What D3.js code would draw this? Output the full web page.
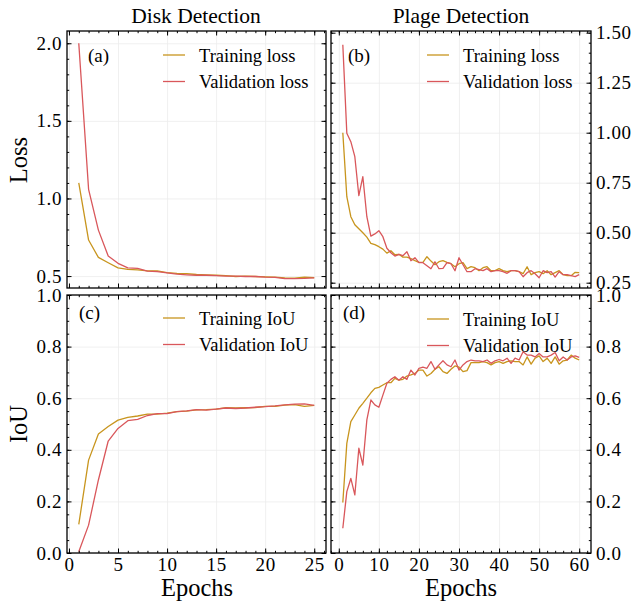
<!DOCTYPE html>
<html>
<head>
<meta charset="utf-8">
<script src="https://cdn.jsdelivr.net/npm/d3@7"></script>
<style>
body { margin: 0; background: #fff; }
svg text { font-family: "Liberation Serif", "Times New Roman", serif; fill: #000; }
.grid line { stroke: #ececec; stroke-width: 0.8; }
.grid .domain { display: none; }
.ax .domain { display: none; }
.ax line { stroke: #000; stroke-width: 1; }
.ax text { letter-spacing: 0.6px; }
</style>
</head>
<body>
<svg width="631" height="606"></svg>
<script>
// epoch i is index + 1 in every series

// (a) disk detection loss, 25 epochs
var diskTrainLoss = [1.101, 0.732, 0.620, 0.586, 0.553, 0.543, 0.540, 0.533, 0.533, 0.522,
	0.517, 0.515, 0.510, 0.507, 0.505, 0.503, 0.497, 0.499, 0.497, 0.495,
	0.493, 0.488, 0.487, 0.493, 0.490];
var diskValLoss = [2.000, 1.059, 0.796, 0.629, 0.582, 0.553, 0.549, 0.532, 0.528, 0.520,
	0.512, 0.508, 0.505, 0.505, 0.503, 0.500, 0.500, 0.497, 0.497, 0.493,
	0.492, 0.484, 0.484, 0.485, 0.488];

// (c) disk detection IoU
var diskTrainIoU = [0.111, 0.360, 0.461, 0.490, 0.515, 0.526, 0.531, 0.538, 0.538, 0.542,
	0.548, 0.550, 0.555, 0.556, 0.558, 0.563, 0.562, 0.563, 0.564, 0.568,
	0.568, 0.573, 0.575, 0.568, 0.572];
var diskValIoU = [0.005, 0.108, 0.283, 0.434, 0.483, 0.513, 0.518, 0.533, 0.540, 0.540,
	0.548, 0.551, 0.556, 0.554, 0.558, 0.562, 0.560, 0.562, 0.565, 0.567,
	0.570, 0.574, 0.577, 0.578, 0.572];

// (b) plage detection loss, 60 epochs
var plageTrainLoss = [1.000, 0.680, 0.580, 0.540, 0.520, 0.500, 0.478, 0.447, 0.440, 0.430,
	0.418, 0.398, 0.410, 0.390, 0.392, 0.378, 0.378, 0.370, 0.360, 0.352,
	0.352, 0.380, 0.358, 0.340, 0.355, 0.360, 0.352, 0.345, 0.330, 0.345,
	0.350, 0.320, 0.330, 0.325, 0.310, 0.325, 0.330, 0.310, 0.310, 0.320,
	0.310, 0.305, 0.310, 0.310, 0.305, 0.295, 0.330, 0.290, 0.300, 0.305,
	0.295, 0.310, 0.290, 0.300, 0.310, 0.290, 0.285, 0.285, 0.302, 0.300];
var plageValLoss = [1.440, 0.997, 0.955, 0.880, 0.685, 0.780, 0.580, 0.483, 0.494, 0.510,
	0.480, 0.422, 0.400, 0.383, 0.392, 0.385, 0.405, 0.360, 0.375, 0.350,
	0.350, 0.335, 0.320, 0.355, 0.320, 0.322, 0.350, 0.345, 0.310, 0.375,
	0.340, 0.305, 0.305, 0.320, 0.315, 0.310, 0.320, 0.305, 0.310, 0.310,
	0.305, 0.297, 0.310, 0.310, 0.305, 0.280, 0.300, 0.310, 0.295, 0.275,
	0.310, 0.300, 0.305, 0.278, 0.305, 0.290, 0.290, 0.285, 0.280, 0.290];

// (d) plage detection IoU
var plageTrainIoU = [0.196, 0.425, 0.509, 0.535, 0.561, 0.580, 0.600, 0.621, 0.638, 0.642,
	0.651, 0.660, 0.660, 0.677, 0.670, 0.673, 0.686, 0.690, 0.696, 0.709,
	0.709, 0.686, 0.696, 0.712, 0.722, 0.703, 0.696, 0.712, 0.725, 0.720,
	0.703, 0.707, 0.738, 0.738, 0.738, 0.742, 0.738, 0.729, 0.738, 0.742,
	0.735, 0.742, 0.745, 0.742, 0.742, 0.729, 0.760, 0.732, 0.755, 0.764,
	0.742, 0.755, 0.735, 0.760, 0.732, 0.745, 0.748, 0.767, 0.755, 0.748];
var plageValIoU = [0.096, 0.238, 0.289, 0.225, 0.406, 0.341, 0.516, 0.593, 0.574, 0.565,
	0.612, 0.658, 0.673, 0.683, 0.670, 0.683, 0.673, 0.709, 0.690, 0.716,
	0.720, 0.716, 0.742, 0.712, 0.729, 0.745, 0.729, 0.722, 0.748, 0.709,
	0.729, 0.742, 0.748, 0.745, 0.745, 0.742, 0.748, 0.735, 0.745, 0.750,
	0.745, 0.755, 0.735, 0.755, 0.748, 0.780, 0.767, 0.767, 0.760, 0.773,
	0.760, 0.760, 0.767, 0.777, 0.745, 0.760, 0.748, 0.760, 0.764, 0.758];

var columnTitles = ["Disk Detection", "Plage Detection"];
var rowLabels = ["Loss", "IoU"];
var xLabel = "Epochs";
var lossNames = ["Training loss", "Validation loss"];
var iouNames = ["Training IoU", "Validation IoU"];

var colorTrain = "#c8951e";
var colorVal = "#d9575b";

var svg = d3.select("svg");

function ticksFrom(a, b, step) {
	var out = [];
	for (var v = a; v <= b + step / 1000; v += step) out.push(+v.toFixed(4));
	return out;
}

var panels = [
	{ tag: "(a)", left: 67, top: 31, w: 259, h: 257,
	  xDomain: [-0.2, 26.2], yDomain: [0.423, 2.079],
	  xMajor: ticksFrom(0, 25, 5), xMinor: ticksFrom(0, 26, 1),
	  yMajor: ticksFrom(0.5, 2.0, 0.5), yMinor: ticksFrom(0.5, 2.0, 0.1), yFmt: ".1f",
	  train: diskTrainLoss, val: diskValLoss, names: lossNames,
	  yRight: false, xLabels: false, tagX: 88, tagY: 62, legX: 163, legY: 55 },
	{ tag: "(b)", left: 331, top: 31, w: 260, h: 257,
	  xDomain: [-1.95, 62.95], yDomain: [0.2235, 1.5085],
	  xMajor: ticksFrom(0, 60, 10), xMinor: ticksFrom(-2, 62, 2),
	  yMajor: ticksFrom(0.25, 1.5, 0.25), yMinor: ticksFrom(0.25, 1.5, 0.05), yFmt: ".2f",
	  train: plageTrainLoss, val: plageValLoss, names: lossNames,
	  yRight: true, xLabels: false, tagX: 348, tagY: 62, legX: 427, legY: 55 },
	{ tag: "(c)", left: 67, top: 295, w: 259, h: 258,
	  xDomain: [-0.2, 26.2], yDomain: [0, 1],
	  xMajor: ticksFrom(0, 25, 5), xMinor: ticksFrom(0, 26, 1),
	  yMajor: ticksFrom(0, 1, 0.2), yMinor: ticksFrom(0, 1, 0.05), yFmt: ".1f",
	  train: diskTrainIoU, val: diskValIoU, names: iouNames,
	  yRight: false, xLabels: true, tagX: 79, tagY: 319, legX: 163, legY: 318 },
	{ tag: "(d)", left: 331, top: 295, w: 260, h: 258,
	  xDomain: [-1.95, 62.95], yDomain: [0, 1],
	  xMajor: ticksFrom(0, 60, 10), xMinor: ticksFrom(-2, 62, 2),
	  yMajor: ticksFrom(0, 1, 0.2), yMinor: ticksFrom(0, 1, 0.05), yFmt: ".1f",
	  train: plageTrainIoU, val: plageValIoU, names: iouNames,
	  yRight: true, xLabels: true, tagX: 343, tagY: 319, legX: 427, legY: 319 }
];

function styleAxis(sel, size) {
	sel.attr("font-family", null).attr("font-size", size);
}

function drawPanel(p) {
	var x = d3.scaleLinear().domain(p.xDomain).range([p.left, p.left + p.w]);
	var y = d3.scaleLinear().domain(p.yDomain).range([p.top + p.h, p.top]);
	var g = svg.append("g");

	// faint grid at the major ticks
	g.append("g").attr("class", "grid")
		.attr("transform", "translate(0," + (p.top + p.h) + ")")
		.call(d3.axisBottom(x).tickValues(p.xMajor).tickSize(-p.h).tickFormat(""));
	g.append("g").attr("class", "grid")
		.attr("transform", "translate(" + p.left + ",0)")
		.call(d3.axisLeft(y).tickValues(p.yMajor).tickSize(-p.w).tickFormat(""));

	var line = d3.line()
		.x(function(d, i) { return x(i + 1); })
		.y(function(d) { return y(d); });

	g.append("path").datum(p.train)
		.attr("fill", "none").attr("stroke", colorTrain).attr("stroke-width", 1.3)
		.attr("stroke-linejoin", "round").attr("d", line);
	g.append("path").datum(p.val)
		.attr("fill", "none").attr("stroke", colorVal).attr("stroke-width", 1.3)
		.attr("stroke-linejoin", "round").attr("d", line);

	// inward ticks on all four sides, minor then major
	var fmtY = d3.format(p.yFmt);
	var sides = [
		{ axis: d3.axisBottom(x), t: "translate(0," + (p.top + p.h) + ")", major: p.xMajor, minor: p.xMinor, lab: p.xLabels, f: d3.format("d") },
		{ axis: d3.axisTop(x), t: "translate(0," + p.top + ")", major: p.xMajor, minor: p.xMinor, lab: false },
		{ axis: d3.axisLeft(y), t: "translate(" + p.left + ",0)", major: p.yMajor, minor: p.yMinor, lab: !p.yRight, f: fmtY },
		{ axis: d3.axisRight(y), t: "translate(" + (p.left + p.w) + ",0)", major: p.yMajor, minor: p.yMinor, lab: p.yRight, f: fmtY }
	];
	sides.forEach(function(s) {
		var mk = s.axis;
		g.append("g").attr("class", "ax").attr("transform", s.t)
			.call(mk.tickValues(s.minor).tickSize(-2.2).tickFormat(""));
		var maj = g.append("g").attr("class", "ax").attr("transform", s.t)
			.call(mk.tickValues(s.major).tickSize(-4.5).tickPadding(5)
				.tickFormat(s.lab ? s.f : ""));
		styleAxis(maj, 19);
	});

	g.append("rect")
		.attr("x", p.left).attr("y", p.top).attr("width", p.w).attr("height", p.h)
		.attr("fill", "none").attr("stroke", "#000").attr("stroke-width", 1.3);

	g.append("text").attr("x", p.tagX).attr("y", p.tagY)
		.attr("font-size", 19).text(p.tag);

	// legend
	[colorTrain, colorVal].forEach(function(c, i) {
		var ly = p.legY + i * 26.5;
		g.append("line")
			.attr("x1", p.legX).attr("x2", p.legX + 22)
			.attr("y1", ly).attr("y2", ly)
			.attr("stroke", c).attr("stroke-width", 1.3);
		g.append("text")
			.attr("x", p.legX + 36).attr("y", ly + 6.5)
			.attr("font-size", 18.5).text(p.names[i]);
	});
}

panels.forEach(drawPanel);

svg.append("text").attr("x", 196).attr("y", 23).attr("text-anchor", "middle")
	.attr("font-size", 21.5).text(columnTitles[0]);
svg.append("text").attr("x", 461).attr("y", 23).attr("text-anchor", "middle")
	.attr("font-size", 21.5).text(columnTitles[1]);

svg.append("text").attr("transform", "translate(27,160) rotate(-90)")
	.attr("text-anchor", "middle").attr("font-size", 24.5).text(rowLabels[0]);
svg.append("text").attr("transform", "translate(27,424) rotate(-90)")
	.attr("text-anchor", "middle").attr("font-size", 24.5).text(rowLabels[1]);

svg.append("text").attr("x", 197).attr("y", 596).attr("text-anchor", "middle")
	.attr("font-size", 24.5).text(xLabel);
svg.append("text").attr("x", 461).attr("y", 596).attr("text-anchor", "middle")
	.attr("font-size", 24.5).text(xLabel);
</script>
</body>
</html>
